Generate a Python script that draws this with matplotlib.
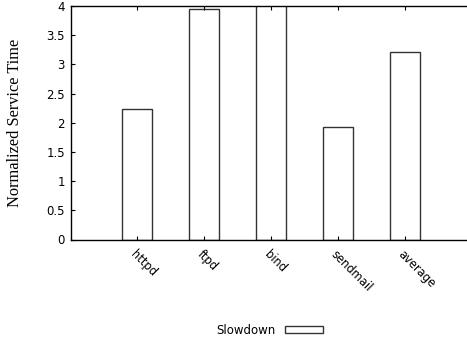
import matplotlib as mpl
mpl.use('Agg')
import matplotlib.pyplot as plt
import numpy as np

apps = ['httpd', 'ftpd', 'bind', 'sendmail', 'average']
slowdown = [2.24, 3.95, 4.6, 1.92, 3.22]

fig = plt.figure(figsize=(4.67, 3.41), dpi=100)
ax = fig.add_axes([70.5/467, 101.5/341, 405/467, 233.5/341])

x = np.arange(1, len(apps) + 1)
bars = ax.bar(x, slowdown, width=0.45, color='white', edgecolor='#333333',
              linewidth=1.0, label='Slowdown')

ax.set_xlim(0, 6.06)
ax.set_ylim(0, 4)
ax.set_yticks(np.arange(0, 4.01, 0.5))
ax.set_yticklabels(['0', '0.5', '1', '1.5', '2', '2.5', '3', '3.5', '4'],
                   fontsize=8.5, family='DejaVu Sans')
ax.set_xticks(x)
ax.set_xticklabels(apps, rotation=-45, ha='left', va='top',
                   rotation_mode='anchor', fontsize=8.3, family='DejaVu Sans')
ax.tick_params(axis='both', direction='in', length=3, width=0.8,
               top=True, right=True, pad=4)
ax.tick_params(axis='x', pad=6)
for s in ax.spines.values():
    s.set_linewidth(1.0)

ax.set_ylabel('Normalized Service Time', family='Liberation Serif', fontsize=11.8,
              labelpad=17)

fig.legend(handles=[bars], labels=['Slowdown'], loc='center',
           bbox_to_anchor=(0.578, 0.032), frameon=False, markerfirst=False,
           prop={'family': 'DejaVu Sans', 'size': 8.5}, handlelength=3.2,
           handleheight=0.5, handletextpad=0.8)

fig.savefig('out.png', dpi=100)
